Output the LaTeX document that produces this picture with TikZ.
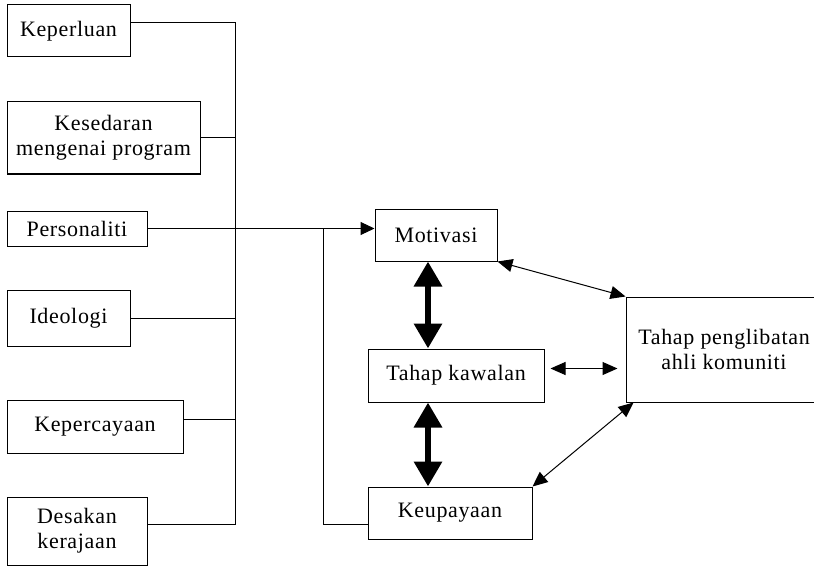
\documentclass[tikz,border=0pt]{standalone}
\usepackage{fontspec}
\setmainfont{Liberation Serif}[LetterSpace=3]
\usetikzlibrary{arrows.meta}

\tikzset{
	kotak/.style={draw, line width=1pt, rectangle, align=center, inner sep=2pt,
		font=\fontsize{22}{25}\selectfont},
	garis/.style={line width=1pt},
	anak/.style={line width=1pt, -{Triangle[length=14pt,width=13pt]}},
	dua/.style={line width=1pt, {Triangle[length=15pt,width=13pt]}-{Triangle[length=15pt,width=13pt]}},
	tebal/.style={line width=6.5pt, {Triangle[length=25pt,width=27pt]}-{Triangle[length=25pt,width=27pt]}}
}

\begin{document}
\begin{tikzpicture}[x=1pt, y=-1pt]
			\useasboundingbox (0,0) rectangle (814,567);
			%%%%% faktor %%%%%
			\node[kotak, minimum width=123pt, minimum height=52pt] (kep) at (68.5, 31) {Keperluan};
			\node[kotak, minimum width=193pt, minimum height=72pt] (kes) at (103.5, 138) {Kesedaran\\mengenai program};
			\node[kotak, minimum width=140pt, minimum height=35pt] (per) at (77, 228.5) {Personaliti};
			\node[kotak, minimum width=123pt, minimum height=56pt] (ide) at (68.5, 318) {Ideologi};
			\node[kotak, minimum width=176pt, minimum height=53pt] (kpc) at (95, 426.5) {Kepercayaan};
			\node[kotak, minimum width=140pt, minimum height=68pt] (des) at (77, 531) {Desakan\\kerajaan};
			
			%%%%% tengah %%%%%
			\node[kotak, minimum width=122pt, minimum height=52pt] (mot) at (436, 235) {Motivasi};
			\node[kotak, minimum width=176pt, minimum height=53pt] (kaw) at (456, 375.5) {Tahap kawalan};
			\node[kotak, minimum width=164pt, minimum height=52pt] (keu) at (450, 513) {Keupayaan};
			\node[kotak, minimum width=196pt, minimum height=105pt] (tpa) at (724, 349.5) {Tahap penglibatan\\ahli komuniti};
			
			\coordinate (bus) at (235, 0);
			\coordinate (cab) at (323, 0);
			\coordinate (paksi) at (428, 0);
			
			%%%%% bas kiri %%%%%
			\draw[garis] ([yshift=8pt]kep.east) -| ([yshift=7pt]des.east -| bus) -- ([yshift=7pt]des.east);
			\draw[garis] (kes.east) -- (kes.east -| bus);
			\draw[garis] (ide.east) -- (ide.east -| bus);
			\draw[garis] ([yshift=7.5pt]kpc.east) -- ([yshift=7.5pt]kpc.east -| bus);
			\draw[anak] (per.east) -- (mot.west |- per.east);
			\draw[garis] (cab |- per.east) |- ([yshift=-11pt]keu.west);
			
			%%%%% anak panah %%%%%
			\draw[tebal] (paksi |- mot.south) -- (paksi |- kaw.north);
			\draw[tebal] (paksi |- kaw.south) -- (paksi |- keu.north);
			\draw[dua] (mot.south east) -- (tpa.north west);
			\draw[dua, shorten <=6pt, shorten >=8pt] ([yshift=7pt]kaw.east) -- ([yshift=7pt]kaw.east -| tpa.west);
			\draw[dua] (keu.north east) -- ([xshift=8pt]tpa.south west);
\end{tikzpicture}
\end{document}
